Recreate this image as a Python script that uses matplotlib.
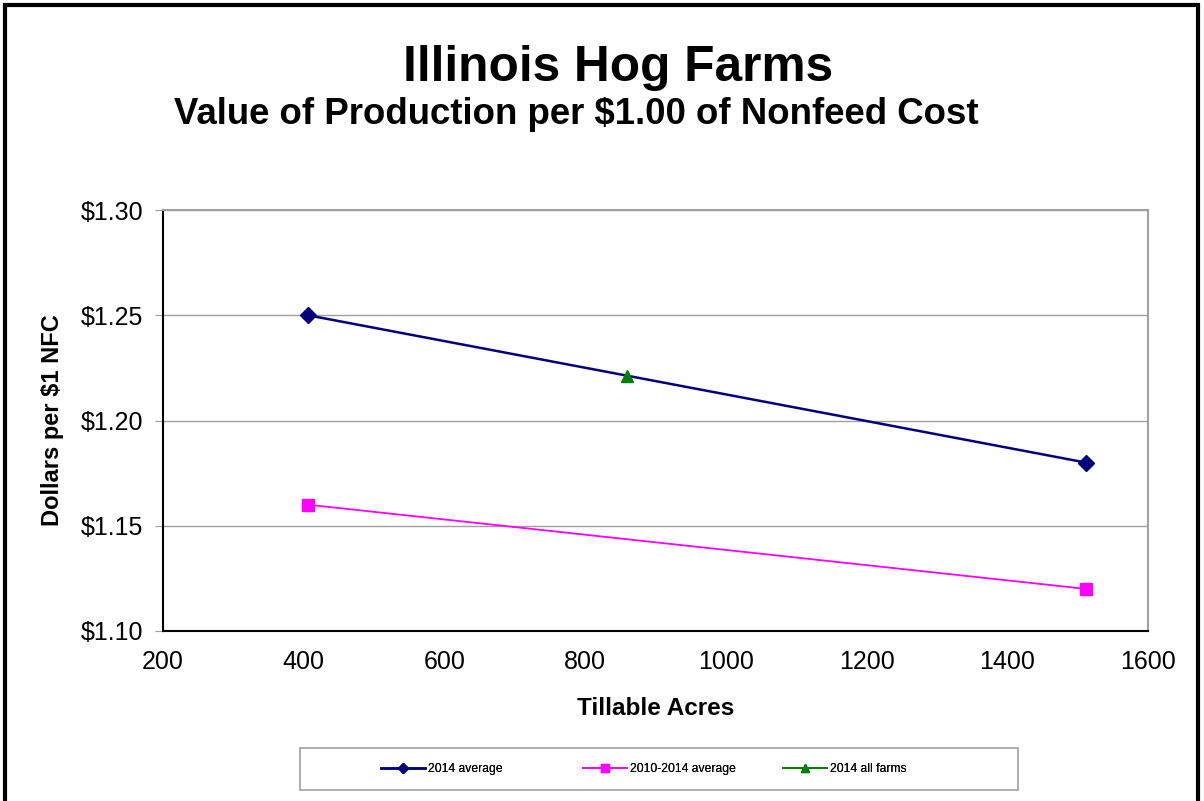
import matplotlib.pyplot as plt
from matplotlib.patches import Rectangle
from matplotlib.ticker import FuncFormatter

plt.rcParams['font.family'] = ['Liberation Sans', 'DejaVu Sans']

# data
acres_avg = [406, 1512]
avg_2014 = [1.25, 1.18]
avg_2010_2014 = [1.16, 1.12]
acres_all = [859]
all_farms_2014 = [1.221]

x_ticks = [200, 400, 600, 800, 1000, 1200, 1400, 1600]
y_ticks = [1.10, 1.15, 1.20, 1.25, 1.30]

W, H = 1204, 801
fig = plt.figure(figsize=(W / 100, H / 100), dpi=100)
ax = fig.add_axes([163 / W, 1 - 631 / H, 985 / W, 421 / H])

l1, = ax.plot(acres_avg, avg_2014, color='#000080', lw=1.8, marker='D', ms=8,
              label='2014 average', zorder=3)
l2, = ax.plot(acres_avg, avg_2010_2014, color='#FF00FF', lw=1.3, marker='s',
              ms=9, label='2010-2014 average', zorder=3)
l3, = ax.plot(acres_all, all_farms_2014, color='#008000', lw=1.3, marker='^',
              ms=9, label='2014 all farms', zorder=4)

ax.set_xlim(200, 1600)
ax.set_ylim(1.10, 1.30)
ax.set_xticks(x_ticks)
ax.set_yticks(y_ticks)
ax.yaxis.set_major_formatter(FuncFormatter(lambda v, p: f'${v:.2f}'))
ax.grid(axis='y', color='#A0A0A0', lw=1)
ax.set_axisbelow(True)
ax.tick_params(axis='y', length=6, color='#A0A0A0', labelsize=18, pad=8)
ax.tick_params(axis='x', length=0, labelsize=18, pad=13.5)

for s in ['top', 'right']:
    ax.spines[s].set_color('#A0A0A0')
    ax.spines[s].set_linewidth(1.5)
for s in ['left', 'bottom']:
    ax.spines[s].set_color('black')
    ax.spines[s].set_linewidth(1.5)

ax.set_xlabel('Tillable Acres', fontsize=17.5, fontweight='bold', labelpad=17)
ax.set_ylabel('Dollars per $1 NFC', fontsize=17, fontweight='bold', labelpad=12)

fig.text(0.513, 1 - 68 / H, 'Illinois Hog Farms', ha='center', va='center',
         fontsize=35.7, fontweight='bold')
fig.text(0.479, 1 - 114 / H, 'Value of Production per $1.00 of Nonfeed Cost',
         ha='center', va='center', fontsize=26.4, fontweight='bold')

# legend box is wider than its entries; entries sit in fixed-width columns
fig.patches.append(Rectangle((300 / W, 1 - 790 / H), 718 / W, 42 / H,
                             transform=fig.transFigure, fill=False,
                             edgecolor='#A0A0A0', lw=1.2))
for handle, x0 in zip([l1, l2, l3], [381, 583, 783]):
    leg = fig.legend([handle], [handle.get_label()], loc='center left',
                     bbox_to_anchor=(x0 / W, 1 - 769 / H), fontsize=8.7,
                     frameon=False, borderpad=0, borderaxespad=0,
                     handlelength=3.6, handletextpad=0.25, markerscale=0.7)
    fig.add_artist(leg)

fig.patches.append(Rectangle((5 / W, -0.01), 1193 / W, 1 - 5 / H + 0.01,
                             transform=fig.transFigure, fill=False,
                             edgecolor='black', lw=3))

fig.savefig('out.png', dpi=100)
